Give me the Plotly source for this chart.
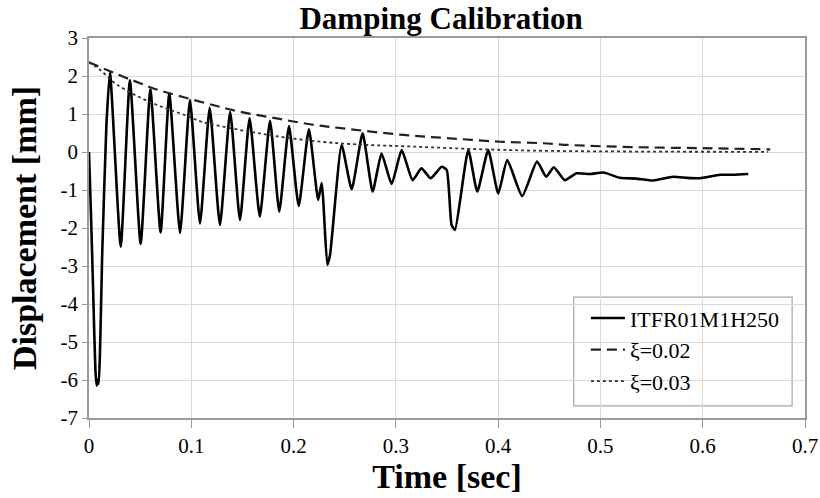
import plotly.graph_objects as go

sig_t = [0.0, 0.002, 0.004, 0.0062, 0.0075, 0.0085, 0.0095, 0.013, 0.017, 0.0205,
         0.031, 0.040, 0.0505, 0.060, 0.070, 0.0785, 0.089, 0.0987, 0.1085, 0.118,
         0.128, 0.138, 0.1476, 0.157, 0.167, 0.177, 0.186, 0.1955, 0.205, 0.215,
         0.224, 0.2275, 0.229, 0.233, 0.2356, 0.247, 0.2568, 0.2675, 0.2773, 0.286,
         0.2959, 0.3057, 0.3164, 0.325, 0.334, 0.3448, 0.3497, 0.3545, 0.3578, 0.3708,
         0.3796, 0.3903, 0.4001, 0.4089, 0.4235, 0.438, 0.447, 0.4545, 0.465, 0.4767,
         0.49, 0.503, 0.519, 0.535, 0.5516, 0.571, 0.585, 0.597, 0.617, 0.63, 0.6445]
sig_y = [0.0, -1.7, -3.6, -5.7, -6.15, -6.0, -6.1, -2.6, 0.7, 2.10,
         -2.49, 1.89, -2.42, 1.65, -2.12, 1.54, -2.13, 1.37, -1.88, 1.16,
         -1.92, 1.06, -1.79, 0.89, -1.70, 0.82, -1.57, 0.68, -1.42, 0.60,
         -1.26, -0.82, -1.26, -2.97, -2.72, 0.18, -0.98, 0.49, -1.04, -0.04,
         -0.84, 0.05, -0.74, -0.43, -0.69, -0.39, -0.47, -1.92, -2.05, 0.05,
         -1.04, 0.05, -1.09, -0.21, -1.16, -0.25, -0.65, -0.40, -0.74, -0.56,
         -0.58, -0.54, -0.68, -0.70, -0.75, -0.65, -0.68, -0.69, -0.60, -0.60, -0.58]

# Damping envelope xi = 0.02
d02_t = [0.0, 0.0335, 0.05, 0.0645, 0.115, 0.1476, 0.182, 0.216, 0.252, 0.307,
         0.353, 0.402, 0.444, 0.473, 0.53, 0.6, 0.666]
d02_y = [2.36, 1.98, 1.81, 1.66, 1.28, 1.06, 0.89, 0.73, 0.61, 0.45,
         0.36, 0.27, 0.23, 0.18, 0.13, 0.10, 0.07]

# Damping envelope xi = 0.03
d03_t = [0.0, 0.011, 0.0254, 0.048, 0.071, 0.094, 0.110, 0.1476, 0.18, 0.219,
         0.2617, 0.32, 0.385, 0.45, 0.55, 0.664]
d03_y = [2.36, 2.16, 1.81, 1.46, 1.19, 0.97, 0.80, 0.58, 0.43, 0.29,
         0.20, 0.14, 0.07, 0.03, 0.01, 0.005]

x_ticks = [0, 0.1, 0.2, 0.3, 0.4, 0.5, 0.6, 0.7]
x_labels = ["0", "0.1", "0.2", "0.3", "0.4", "0.5", "0.6", "0.7"]
y_ticks = [3, 2, 1, 0, -1, -2, -3, -4, -5, -6, -7]
y_labels = ["3", "2", "1", "0", "-1", "-2", "-3", "-4", "-5", "-6", "-7"]

SERIF = "Liberation Serif"

fig = go.Figure()
fig.add_trace(go.Scatter(x=sig_t, y=sig_y, mode="lines", name="ITFR01M1H250",
                         line=dict(color="black", width=2.6, shape="spline", smoothing=0.5)))
fig.add_trace(go.Scatter(x=d02_t, y=d02_y, mode="lines", name="ξ=0.02",
                         line=dict(color="#222222", width=2.2, dash="10px,6px", shape="spline")))
fig.add_trace(go.Scatter(x=d03_t, y=d03_y, mode="lines", name="ξ=0.03",
                         line=dict(color="#333333", width=1.8, dash="dot", shape="spline")))

# legend frame
fig.add_shape(type="rect", xref="paper", yref="paper",
              x0=0.677, x1=0.982, y0=0.032, y1=0.318,
              line=dict(color="#a6a6a6", width=1.2), fillcolor="white", layer="below")

fig.update_layout(
    width=820, height=498,
    margin=dict(l=89, r=15, t=38, b=80, autoexpand=False),
    paper_bgcolor="white", plot_bgcolor="white",
    title=dict(text="<b>Damping Calibration</b>", x=0.538, xanchor="center",
               y=0.964, yref="container", yanchor="middle", automargin=False,
               font=dict(family=SERIF, size=31, color="black")),
    font=dict(family=SERIF, color="black"),
    showlegend=True,
    legend=dict(x=0.694, y=0.318, xanchor="left", yanchor="top",
                bgcolor="rgba(0,0,0,0)", borderwidth=0,
                font=dict(family=SERIF, size=22, color="black"),
                itemwidth=34, tracegroupgap=6),
)
fig.update_xaxes(range=[0, 0.7], tickvals=x_ticks, ticktext=x_labels,
                 automargin=False,
                 showgrid=True, gridcolor="#d9d9d9", gridwidth=1,
                 showline=True, linecolor="#9a9a9a", linewidth=1.5, mirror=True,
                 ticks="outside", ticklen=8, tickcolor="#9a9a9a",
                 tickfont=dict(family=SERIF, size=21, color="black"),
                 zeroline=False,
                 title=dict(text="<b>Time [sec]</b>", standoff=0,
                            font=dict(family=SERIF, size=34, color="black")))
fig.update_yaxes(range=[-7, 3], tickvals=y_ticks, ticktext=y_labels,
                 automargin=False,
                 showgrid=True, gridcolor="#d9d9d9", gridwidth=1,
                 showline=True, linecolor="#9a9a9a", linewidth=1.5, mirror=True,
                 ticks="outside", ticklen=5, tickcolor="#9a9a9a",
                 tickfont=dict(family=SERIF, size=21, color="black"),
                 zeroline=False,
                 title=dict(text="<b>Displacement [mm]</b>", standoff=14,
                            font=dict(family=SERIF, size=34, color="black")))

fig.write_html("out.html", config={"displayModeBar": False},
               post_script="document.body.style.margin='0';")
